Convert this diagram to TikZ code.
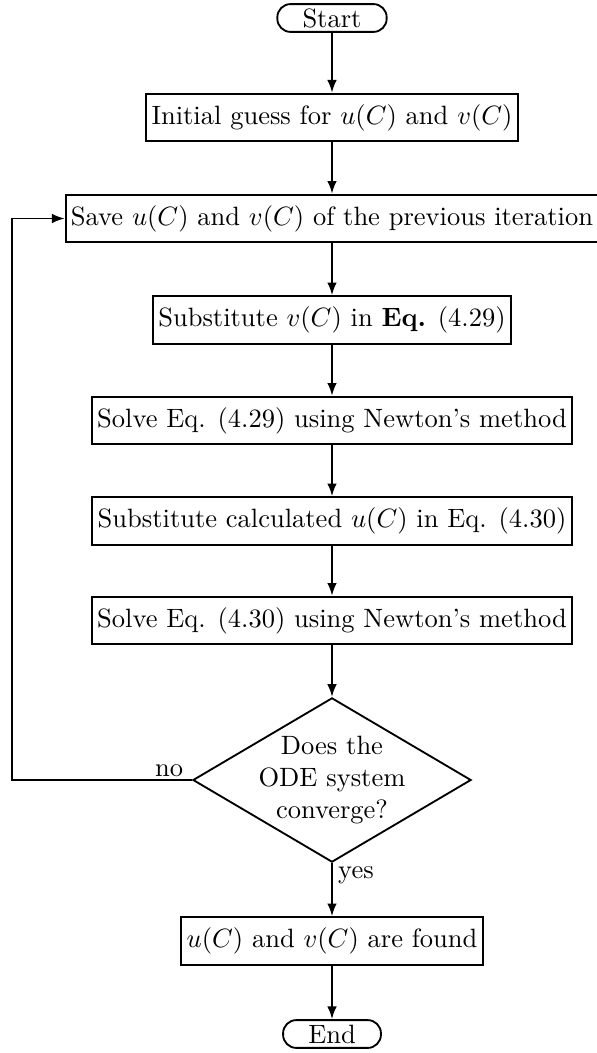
\documentclass[tikz,border=0pt]{standalone}
\usepackage{amsmath}
\usepackage{amsfonts}
\usetikzlibrary{shapes.geometric,arrows.meta}

\begin{document}
\begin{tikzpicture}[x = 0.3774pt, y = -0.3774pt,
		block/.style = {draw, line width = 0.7pt, inner xsep = 2pt, inner ysep = 0pt, minimum height = 18pt},
		terminal/.style = {draw, line width = 0.7pt, rounded corners = 5pt, inner xsep = 9.5pt, inner ysep = 0pt, minimum height = 10.5pt},
		decision/.style = {draw, line width = 0.7pt, diamond, aspect = 1.7, inner sep = -2pt, minimum width = 105pt, minimum height = 62pt, align = center},
		flow/.style = {-{Latex[length = 4.8pt, width = 3.6pt]}, line width = 0.7pt}]
		\useasboundingbox (0,0) rectangle (597,1053);
		\node[terminal] (start) at (332,18) {Start};
		\node[block] (init) at (332,117.5) {Initial guess for $u(C)$ and $v(C)$};
		\node[block] (save) at (332,218.5) {Save $u(C)$ and $v(C)$ of the previous iteration};
		\node[block] (subsv) at (332,320) {Substitute $v(C)$ in \textbf{Eq.} (4.29)};
		\node[block] (solveu) at (332,420.5) {Solve Eq. (4.29) using Newton's method};
		\node[block] (subsu) at (332,521) {Substitute calculated $u(C)$ in Eq. (4.30)};
		\node[block] (solvev) at (332,620.5) {Solve Eq. (4.30) using Newton's method};
		\node[decision] (conv) at (332,780) {Does the\\ODE system\\converge?};
		\node[block] (found) at (332,941) {$u(C)$ and $v(C)$ are found};
		\node[terminal] (end) at (332,1034) {End};
		\coordinate (back) at (12,780);
		\draw[flow] (start) -- (init);
		\draw[flow] (init) -- (save);
		\draw[flow] (save) -- (subsv);
		\draw[flow] (subsv) -- (solveu);
		\draw[flow] (solveu) -- (subsu);
		\draw[flow] (subsu) -- (solvev);
		\draw[flow] (solvev) -- (conv);
		\draw[flow] (conv.west) node[anchor = south east, inner sep = 1pt, xshift = -2pt] {no} -- (back) |- (save.west);
		\draw[flow] (conv.south) node[anchor = north west, inner sep = 1pt, xshift = 1pt] {yes} -- (found);
		\draw[flow] (found) -- (end);
	\end{tikzpicture}
\end{document}
